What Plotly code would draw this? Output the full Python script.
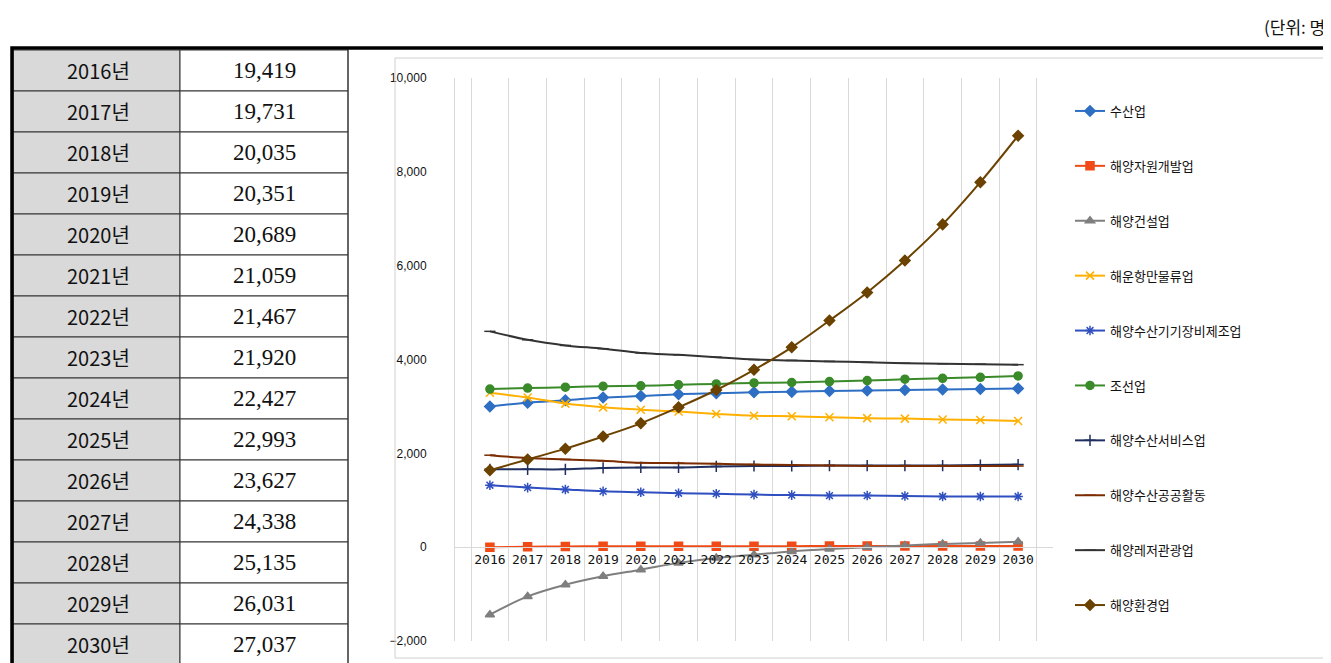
import plotly.graph_objects as go

# Table data (left side)
table_years = ['2016년', '2017년', '2018년', '2019년', '2020년', '2021년', '2022년', '2023년',
               '2024년', '2025년', '2026년', '2027년', '2028년', '2029년', '2030년']
table_values = ['19,419', '19,731', '20,035', '20,351', '20,689', '21,059', '21,467', '21,920',
                '22,427', '22,993', '23,627', '24,338', '25,135', '26,031', '27,037']

# Chart data (right side)
years = ['2016', '2017', '2018', '2019', '2020', '2021', '2022', '2023',
         '2024', '2025', '2026', '2027', '2028', '2029', '2030']
fisheries = [3000, 3080, 3130, 3190, 3220, 3260, 3280, 3300, 3310, 3330, 3340, 3350, 3360, 3370, 3380]
resources = [0, 10, 15, 20, 20, 20, 20, 20, 20, 25, 25, 25, 25, 25, 25]
construction = [-1440, -1050, -800, -620, -480, -335, -230, -160, -90, -40, 0, 35, 70, 90, 115]
logistics = [3290, 3190, 3060, 2980, 2930, 2890, 2840, 2800, 2790, 2770, 2750, 2740, 2720, 2710, 2690]
equipment = [1320, 1270, 1230, 1190, 1170, 1150, 1140, 1120, 1110, 1100, 1100, 1090, 1080, 1080, 1080]
shipbuilding = [3370, 3390, 3410, 3430, 3440, 3460, 3480, 3500, 3510, 3530, 3550, 3580, 3600, 3620, 3650]
services = [1660, 1660, 1660, 1690, 1700, 1700, 1720, 1730, 1730, 1740, 1740, 1740, 1740, 1750, 1760]
public = [1960, 1900, 1870, 1840, 1800, 1790, 1780, 1760, 1750, 1740, 1730, 1730, 1730, 1730, 1730]
leisure = [4600, 4420, 4300, 4230, 4140, 4100, 4050, 4000, 3980, 3960, 3940, 3920, 3910, 3900, 3890]
environment = [1640, 1870, 2100, 2360, 2640, 2980, 3350, 3780, 4260, 4830, 5430, 6110, 6880, 7780, 8770]

series = [
    ('수산업', fisheries, '#2E6FC4', 'diamond'),
    ('해양자원개발업', resources, '#F04A16', 'square'),
    ('해양건설업', construction, '#7F7F7F', 'triangle-up'),
    ('해운항만물류업', logistics, '#FFB000', 'x-thin-open'),
    ('해양수산기기장비제조업', equipment, '#2F4FC0', 'asterisk-open'),
    ('조선업', shipbuilding, '#3A8A2A', 'circle'),
    ('해양수산서비스업', services, '#1F2F5F', 'cross-thin-open'),
    ('해양수산공공활동', public, '#7B2C00', 'line-ew-open'),
    ('해양레저관광업', leisure, '#333333', 'line-ew-open'),
    ('해양환경업', environment, '#6B4200', 'diamond'),
]

fig = go.Figure()
for i, (name, vals, color, sym) in enumerate(series):
    fig.add_trace(go.Scatter(
        x=years, y=vals, name=name, mode='lines+markers', legendgroup=str(i),
        line=dict(color=color, width=2, shape='spline'),
        marker=dict(symbol=sym, size=8, color=color, line=dict(color=color, width=1.5))))

W, H = 1331, 663
shapes = []
row_top = 42
row_h = 41
for i in range(len(table_years)):
    y0 = 1 - (row_top + i * row_h) / H
    y1 = 1 - (row_top + (i + 1) * row_h) / H
    shapes.append(dict(type='rect', xref='paper', yref='paper', x0=5 / W, x1=172 / W,
                       y0=y1, y1=y0, fillcolor='#D9D9D9', line=dict(color='#333', width=1), layer='below'))
    shapes.append(dict(type='rect', xref='paper', yref='paper', x0=172 / W, x1=340 / W,
                       y0=y1, y1=y0, fillcolor='white', line=dict(color='#333', width=1), layer='below'))
    fig.add_annotation(x=90 / W, y=(y0 + y1) / 2, xref='paper', yref='paper', text=table_years[i],
                       showarrow=False, xanchor='center', yanchor='middle',
                       font=dict(family='Noto Sans CJK KR', size=20, color='#111'))
    fig.add_annotation(x=256 / W, y=(y0 + y1) / 2, xref='paper', yref='paper', text=table_values[i],
                       showarrow=False, xanchor='center', yanchor='middle',
                       font=dict(family='Liberation Serif', size=23, color='#111'))

# chart frame and outer border
shapes.append(dict(type='rect', xref='paper', yref='paper', x0=387 / W, x1=1318 / W,
                   y0=1 - 650 / H, y1=1 - 50 / H, line=dict(color='#D0D0D0', width=1)))
shapes.append(dict(type='line', xref='paper', yref='paper', x0=340 / W, x1=340 / W,
                   y0=1 - 657 / H, y1=1 - 40 / H, line=dict(color='#333', width=1)))
shapes.append(dict(type='rect', xref='paper', yref='paper', x0=4 / W, x1=1327 / W,
                   y0=1 - 657 / H, y1=1 - 40 / H, line=dict(color='black', width=3.5)))

fig.add_annotation(x=1325 / W, y=1 - 18 / H, xref='paper', yref='paper', text='(단위: 명)',
                   showarrow=False, xanchor='right', yanchor='middle',
                   font=dict(family='Noto Sans CJK KR', size=17, color='#111'))

fig.update_layout(
    width=W, height=H, margin=dict(l=0, r=0, t=0, b=0, pad=0, autoexpand=False),
    paper_bgcolor='white', plot_bgcolor='white', shapes=shapes,
    font=dict(family='Noto Sans CJK KR', color='#111'),
    xaxis=dict(domain=[447 / W, 1045 / W], anchor='free', position=1 - 539 / H,
               tickson='boundaries', showgrid=True, gridcolor='#D9D9D9', ticks='',
               showline=True, linecolor='#D9D9D9', tickangle=0,
               tickfont=dict(size=13, family='DejaVu Sans Mono'), automargin=False),
    yaxis=dict(domain=[1 - 633 / H, 1 - 70 / H], range=[-2000, 10000], dtick=2000,
               tickformat=',', showgrid=False, zeroline=False, showline=True, linecolor='#D9D9D9',
               tickfont=dict(size=12, family='Liberation Sans'), ticklabelstandoff=25,
               automargin=False),
    legend=dict(x=1062 / W, y=1 - 88 / H, xanchor='left', yanchor='top', tracegroupgap=35,
                font=dict(size=13), itemwidth=30, bgcolor='rgba(0,0,0,0)'),
)

fig.write_html('out.html')
